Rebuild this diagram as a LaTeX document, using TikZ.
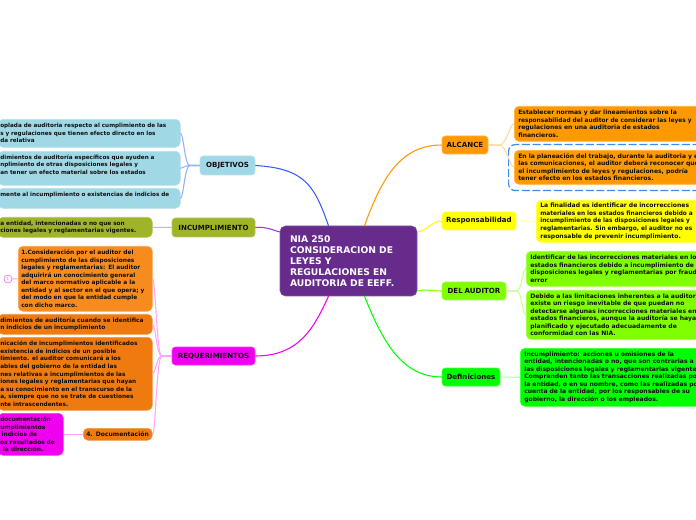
\documentclass[tikz,border=0pt]{standalone}
\usepackage{fontspec}
\setmainfont[WordSpace=0.75]{DejaVu Sans}
\usetikzlibrary{calc}
\definecolor{cpur}{HTML}{672B8C}
\definecolor{corg}{HTML}{FF9900}
\definecolor{cyel}{HTML}{FFFF00}
\definecolor{cchr}{HTML}{80FF00}
\definecolor{clim}{HTML}{00FF00}
\definecolor{cblu}{HTML}{A0D8E6}
\definecolor{coli}{HTML}{A0B42A}
\definecolor{cmag}{HTML}{F000F0}
\definecolor{cor1}{HTML}{F78B1E}
\definecolor{cor2}{HTML}{EE7A10}
\definecolor{cfra}{HTML}{3C8CF0}
\definecolor{ctxt}{HTML}{101010}
\definecolor{lorg}{HTML}{FFD9A0}
\definecolor{lyel}{HTML}{FFFFAA}
\definecolor{lchr}{HTML}{C8FF96}
\definecolor{llim}{HTML}{AAFFAA}
\definecolor{lblu}{HTML}{96AFFF}
\definecolor{lpur}{HTML}{CDAAFF}
\definecolor{lmag}{HTML}{FFA5FF}
\definecolor{tblu}{HTML}{3C5AFF}
\definecolor{tpur}{HTML}{9632FF}
\newcommand{\leafsized}[1]{\fontsize{#1}{5.65pt}\selectfont\bfseries}
\newcommand{\topicfont}{\fontsize{5.3pt}{6.4pt}\selectfont\bfseries}
\newcommand{\sq}[2]{\scalebox{#1}[1]{#2}}
\tikzset{
  x=0.75pt,y=-0.75pt,
  leaf/.style n args={4}{fill=#1,draw=#1!75!white,line width=0.4pt,rounded corners=3.5pt,
    anchor=north west,inner xsep=#4*0.75pt,inner ysep=0pt,text width=(#2-2*#4)*0.75pt,
    minimum height=#3*0.75pt,align=left,font=\leafsized{4.55pt},text=ctxt},
  fsz/.style={font=\leafsized{#1}},
  topic/.style n args={3}{fill=#1,draw=#1!75!white,line width=0.4pt,rounded corners=2.5pt,
    inner sep=0pt,minimum width=#2*0.75pt,minimum height=#3*0.75pt,align=center,font=\topicfont,text=ctxt},
  root/.style={fill=cpur,draw=cpur!80!white,line width=0.4pt,rounded corners=4pt,inner xsep=7.5pt,inner ysep=0pt,
    text width=117*0.75pt,minimum height=70*0.75pt,align=left,text=white,
    font=\fontsize{6.9pt}{8.2pt}\selectfont\bfseries},
  frame/.style={draw=cfra,dash pattern=on 6pt off 2pt,line width=0.9pt,rounded corners=5pt,anchor=north west,inner sep=0pt,
    minimum width=220*0.75pt,minimum height=46*0.75pt},
  trunk/.style={line width=0.8pt},
  twig/.style={line width=0.8pt},
}
\begin{document}
\begin{tikzpicture}
\path[use as bounding box,fill=white] (0,0) rectangle (696,520);
\clip (0,0) rectangle (696,520);
% root
\node[root] (cen) at (348.5,261) {NIA 250\\CONSIDERACION DE\\LEYES Y\\REGULACIONES EN\\AUDITORIA DE EEFF.};
% topics
\node[topic={corg}{46}{18}] (alc) at (465,145) {ALCANCE};
\node[topic={cyel}{74}{18}] (res) at (479,221) {Responsabilidad};
\node[topic={cchr}{64}{18}] (del) at (474,291) {DEL AUDITOR};
\node[topic={clim}{58}{18}] (def) at (471,377) {Definiciones};
\node[topic={cblu}{55}{19}] (obj) at (227.5,165.5) {OBJETIVOS};
\node[topic={coli}{83}{19}] (inc) at (213.5,227.5) {INCUMPLIMIENTO};
\node[topic={cmag}{83}{18}] (req) at (213.5,356) {REQUERIMIENTOS};
% right leaves
\node[frame] (fra) at (508,144) {};
\node[leaf={corg}{230}{35}{4}] (a1) at (514,106) {Establecer normas y dar lineamientos sobre la\\\sq{0.96}{responsabilidad del auditor de considerar las leyes y}\\regulaciones en una auditoria de estados\\financieros.};
\node[leaf={corg}{230}{34}{4}] (a2) at (514,150) {En la planeación del trabajo, durante la auditoria y en\\las comunicaciones, el auditor deberá reconocer que\\el incumplimiento de leyes y regulaciones, podría\\tener efecto en los estados financieros.};
\node[leaf={cyel}{210}{42}{4}] (r1) at (536,200) {La finalidad es identificar de incorrecciones\\\sq{0.96}{materiales en los estados financieros debido a}\\\sq{0.96}{incumplimiento de las disposiciones legales y}\\\sq{0.96}{reglamentarias. Sin embargo, el auditor no es}\\responsable de prevenir incumplimiento.};
\node[leaf={cchr}{230}{35}{4}] (d1) at (526,251) {Identificar de las incorrecciones materiales en los\\estados financieros debido a incumplimiento de las\\disposiciones legales y reglamentarias por fraude o\\error};
\node[leaf={cchr}{230}{49}{4}] (d2) at (526,290) {Debido a las limitaciones inherentes a la auditoría,\\existe un riesgo inevitable de que puedan no\\detectarse algunas incorrecciones materiales en los\\estados financieros, aunque la auditoría se haya\\planificado y ejecutado adecuadamente de\\conformidad con las NIA.};
\node[leaf={clim}{230}{58}{4}] (f1) at (520,348) {Incumplimiento: acciones u omisiones de la\\entidad, intencionadas o no, que son contrarias a\\las disposiciones legales y reglamentarias vigentes.\\Comprenden tanto las transacciones realizadas por\\la entidad, o en su nombre, como las realizadas por\\cuenta de la entidad, por los responsables de su\\gobierno, la dirección o los empleados.};
% left leaves
\node[leaf={cblu}{182}{28}{2},fsz=4.25pt] (o1) at (-2,119) {oplada de auditoria respecto al cumplimiento de las\\s y regulaciones que tienen efecto directo en los\\da relativa};
\node[leaf={cblu}{182}{34}{2},fsz=4.25pt] (o2) at (-2,151) {dimientos de auditoría específicos que ayuden a\\nplimiento de otras disposiciones legales y\\an tener un efecto material sobre los estados\\~};
\node[leaf={cblu}{182}{20}{2},fsz=4.25pt] (o3) at (-2,188) {mente al incumplimiento o existencias de indicios de\\~};
\node[leaf={coli}{154}{20}{2},fsz=4.35pt] (i1) at (-2,217) {a entidad, intencionadas o no que son\\ciones legales y reglamentarias vigentes.};
\node[leaf={cor1}{134}{65}{3},fsz=4.4pt] (q1) at (18,246) {1.Consideración por el auditor del\\cumplimiento de las disposiciones\\legales y reglamentarias: El auditor\\adquirirá un conocimiento general\\del marco normativo aplicable a la\\\mbox{entidad y al sector en el que opera; y}\\del modo en que la entidad cumple\\con dicho marco.};
\node[leaf={cor2}{154}{20}{2},fsz=4.4pt] (q2) at (-2,314) {dimientos de auditoría cuando se identifica\\n indicios de un incumplimiento};
\node[leaf={cor2}{154}{73}{2},fsz=4.35pt] (q3) at (-2,337) {nicación de incumplimientos identificados\\existencia de indicios de un posible\\limiento. el auditor comunicará a los\\ables del gobierno de la entidad las\\nes relativas a incumplimientos de las\\iones legales y reglamentarias  que hayan\\a su conocimiento en el transcurso de la\\a, siempre que no se trate de cuestiones\\nte intrascendentes.};
\node[leaf={cor2}{69}{12}{3}] (q4) at (83,428) {\mbox{4. Documentación}};
\node[leaf={cmag}{65}{42}{2},fsz=4.4pt] (m1) at (-2,413) {documentación\\umplimientos\\\hspace*{1pt}indicios de\\os resultados de\\\hspace*{2pt}la dirección.};
\node[circle,draw=cmag!50!white,fill=white,line width=0.6pt,minimum size=8*0.75pt,inner sep=0pt,font=\fontsize{3pt}{3pt}\selectfont,text=cmag!60!white] (n1) at (8,279) {1};
% main connectors
\draw[trunk,tblu] ($(cen.north)+(-20,0)$) .. controls +(-14,-40) and +(50,3) .. (obj.east);
\draw[trunk,tpur] ($(cen.west)+(0,-29)$) .. controls +(-10,-3) and +(10,-1) .. (inc.east);
\draw[trunk,cmag] ($(cen.south)+(-20,0)$) .. controls +(-14,30) and +(45,0) .. (req.east);
\draw[trunk,corg] ($(cen.north)+(16,0)$) .. controls +(18,-50) and +(-40,0) .. (alc.west);
\draw[trunk,cyel] ($(cen.east)+(0,-29)$) .. controls +(10,-1) and +(-10,0) .. (res.west);
\draw[trunk,cchr] ($(cen.east)+(0,30)$) .. controls +(10,-2) and +(-10,0) .. (del.west);
\draw[trunk,clim] ($(cen.south)+(16,0)$) .. controls +(18,45) and +(-40,0) .. (def.west);
% twigs
\draw[twig,lorg] (alc.east) -- ++(11,0) .. controls +(7,0) and +(-4,0) .. (a1.west);
\draw[twig,lorg] (alc.east) -- ++(11,0) .. controls +(7,0) and +(-4,0) .. (a2.west);
\draw[twig,lyel] (res.east) -- (r1.west);
\draw[twig,lchr] (del.east) -- ++(10,0) .. controls +(6,0) and +(-4,0) .. (d1.west);
\draw[twig,lchr] (del.east) -- ++(10,0) .. controls +(6,0) and +(-4,0) .. (d2.west);
\draw[twig,llim] (def.east) -- (f1.west);
\draw[twig,lblu] (obj.west) -- ++(-10,0) .. controls +(-5,0) and +(3,0) .. (o1.east);
\draw[twig,lblu] (obj.west) -- ++(-10,0) .. controls +(-5,0) and +(3,0) .. (o2.east);
\draw[twig,lblu] (obj.west) -- ++(-10,0) .. controls +(-5,0) and +(3,0) .. (o3.east);
\draw[twig,lpur] (inc.west) -- (i1.east);
\draw[twig,lmag] (req.west) -- ++(-10,0) .. controls +(-5,0) and +(3,0) .. (q1.east);
\draw[twig,lmag] (req.west) -- ++(-10,0) .. controls +(-5,0) and +(3,0) .. (q2.east);
\draw[twig,lmag] (req.west) -- ++(-10,0) .. controls +(-5,0) and +(3,0) .. (q3.east);
\draw[twig,lmag] (req.west) -- ++(-10,0) .. controls +(-5,0) and +(3,0) .. (q4.east);
\draw[twig,lmag] (q4.west) -- (m1.east);
\draw[twig,lmag] (n1.east) -- (q1.west);
\end{tikzpicture}
\end{document}
